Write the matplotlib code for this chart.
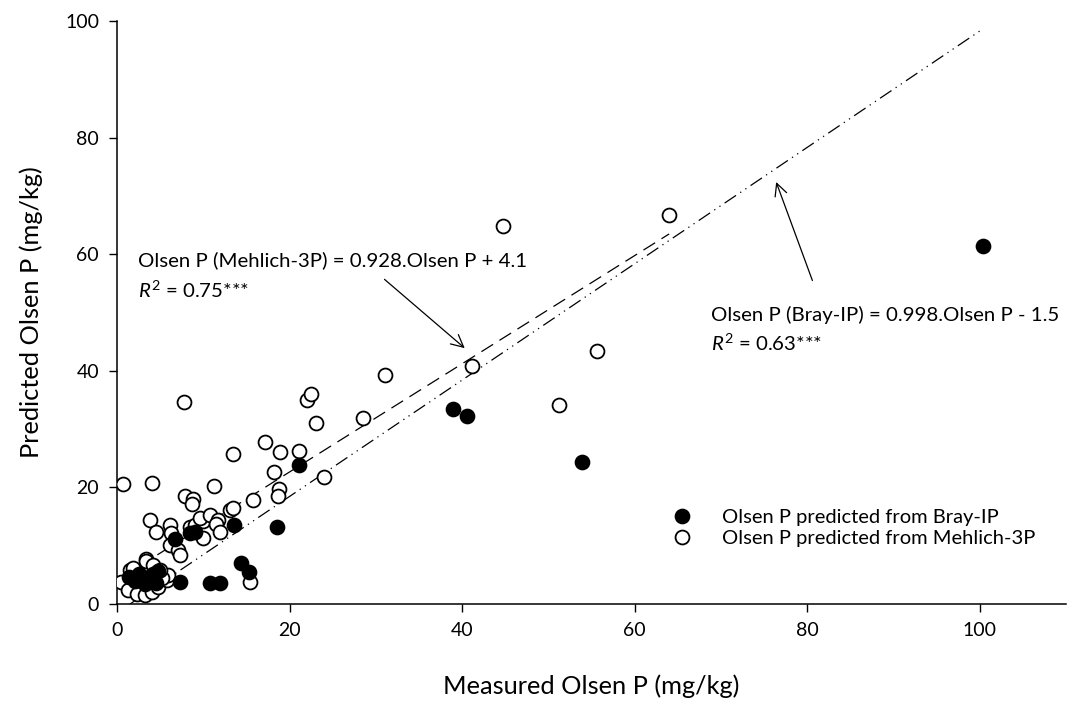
import numpy as np
import matplotlib
matplotlib.use("Agg")
import matplotlib.pyplot as plt

plt.rcParams["font.family"] = ["Lato", "DejaVu Sans"]
plt.rcParams["mathtext.fontset"] = "custom"
plt.rcParams["mathtext.rm"] = "Lato"
plt.rcParams["mathtext.it"] = "Lato:italic"

# Olsen P predicted from Bray-IP (filled)
bray_x = [100.4, 53.9, 38.9, 40.6, 21.1, 18.5, 13.5, 8.5, 9.0, 6.7, 14.4, 15.3,
          10.8, 11.9, 7.3, 1.35, 2.1, 2.9, 3.7, 4.2, 4.8, 3.2, 2.6, 4.5]
bray_y = [61.5, 24.3, 33.5, 32.3, 23.8, 13.3, 13.6, 12.1, 12.4, 11.1, 7.0, 5.5,
          3.6, 3.6, 3.8, 4.6, 4.0, 4.3, 4.6, 5.1, 5.7, 3.4, 5.2, 3.6]

# Olsen P predicted from Mehlich-3P (open)
mehlich_x = [64.0, 44.7, 55.6, 51.2, 41.1, 31.1, 28.5, 22.0, 22.5, 23.1, 24.0, 21.1,
             18.9, 17.1, 18.2, 18.8, 18.7, 15.8, 15.4, 13.4, 13.1, 13.4, 11.2, 7.8,
             7.9, 8.8, 8.7, 0.7, 4.1, 3.8, 4.5, 6.1, 6.2, 6.1, 7.1, 7.3, 8.5, 9.0,
             10.0, 9.6, 10.8, 11.7, 11.5, 11.9, 10.0, 3.4, 3.4, 0.5, 1.3, 2.3, 3.2,
             4.0, 4.8, 5.8, 5.9, 4.2, 1.5, 1.9, 5.2, 5.0]
mehlich_y = [66.7, 64.8, 43.4, 34.1, 40.8, 39.3, 32.0, 35.0, 36.0, 31.1, 21.8, 26.3,
             26.0, 27.8, 22.6, 19.8, 18.6, 17.9, 3.8, 25.8, 16.2, 16.5, 20.2, 34.7,
             18.6, 18.1, 17.2, 20.6, 20.8, 14.4, 12.4, 13.6, 12.1, 10.1, 9.3, 8.4,
             13.2, 13.5, 14.3, 14.7, 15.3, 14.4, 13.8, 12.4, 11.3, 7.8, 7.3, 3.8,
             2.4, 1.8, 1.5, 2.1, 3.0, 4.1, 5.0, 6.7, 5.8, 6.1, 4.4, 5.8]

# regression fits (slope, intercept)
mehlich_fit = (0.928, 4.1)
bray_fit = (0.998, -1.5)

fig = plt.figure(figsize=(10.67, 7.04), dpi=100)
ax = fig.add_axes([0.1097, 0.142, 0.8894, 0.828])

ax.plot(mehlich_x, mehlich_y, "o", ms=10, mfc="white", mec="black", mew=1.3,
        ls="none", label="Olsen P predicted from Mehlich-3P", zorder=3)
ax.plot(bray_x, bray_y, "o", ms=10, mfc="black", mec="black", mew=1.3,
        ls="none", label="Olsen P predicted from Bray-IP", zorder=4)

xm = np.array([min(mehlich_x), max(mehlich_x)])
ax.plot(xm, mehlich_fit[0] * xm + mehlich_fit[1], color="black", lw=0.9,
        dashes=(11, 6), zorder=2)
xb = np.array([min(bray_x), max(bray_x)])
ax.plot(xb, bray_fit[0] * xb + bray_fit[1], color="black", lw=0.9,
        dashes=(11, 4, 1, 4, 1, 4), zorder=2)

ax.set_xlim(0, 110)
ax.set_ylim(0, 100)
ax.set_xticks([0, 20, 40, 60, 80, 100])
ax.set_yticks([0, 20, 40, 60, 80, 100])
ax.spines["top"].set_visible(False)
ax.spines["right"].set_visible(False)
ax.spines["left"].set_linewidth(1.1)
ax.spines["bottom"].set_linewidth(1.1)
ax.tick_params(direction="out", length=6, width=1.0, labelsize=14, pad=7)

ax.set_xlabel("Measured Olsen P (mg/kg)", fontsize=18.3)
ax.set_ylabel("Predicted Olsen P (mg/kg)", fontsize=18.3)
ax.xaxis.set_label_coords(0.5, -0.12)
ax.yaxis.set_label_coords(-0.078, 0.5)

ax.text(2.4, 58.9, "Olsen P (Mehlich-3P) = 0.928.Olsen P + 4.1", fontsize=14.7,
        va="center", ha="left")
ax.text(2.4, 53.9, r"$\mathit{R}^{\mathrm{2}}$ = 0.75***", fontsize=14.7,
        va="center", ha="left")
ax.text(68.8, 49.6, "Olsen P (Bray-IP) = 0.998.Olsen P - 1.5", fontsize=14.7,
        va="center", ha="left")
ax.text(68.8, 44.7, r"$\mathit{R}^{\mathrm{2}}$ = 0.63***", fontsize=14.7,
        va="center", ha="left")

arrow = dict(arrowstyle="->", lw=0.9, color="black", mutation_scale=22,
             shrinkA=0, shrinkB=0)
ax.annotate("", xy=(40.3, 43.9), xytext=(31.0, 55.7), arrowprops=arrow)
ax.annotate("", xy=(76.4, 72.4), xytext=(80.6, 55.5), arrowprops=arrow)

handles, labels = ax.get_legend_handles_labels()
ax.legend(handles[::-1], labels[::-1], loc="center left",
          bbox_to_anchor=(0.585, 0.13), frameon=False, fontsize=14.5,
          borderaxespad=0, borderpad=0, handlelength=1.0, handletextpad=1.45,
          labelspacing=0.18, numpoints=1)

fig.savefig("out.png", dpi=100)
